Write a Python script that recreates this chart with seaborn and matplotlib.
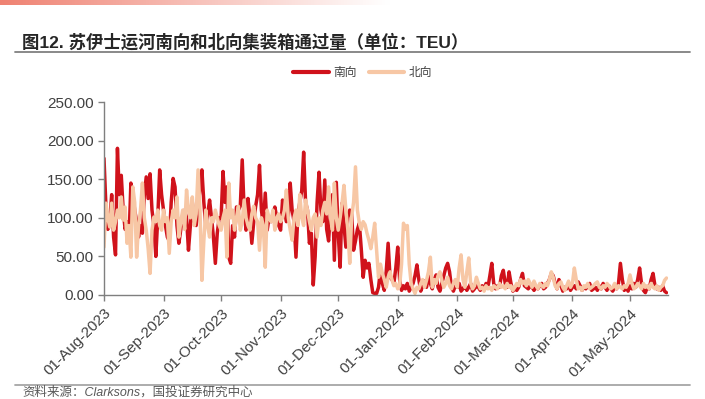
import numpy as np
import pandas as pd
import seaborn as sns
import matplotlib.pyplot as plt
import matplotlib.dates as mdates
from matplotlib.lines import Line2D
from matplotlib.colors import LinearSegmentedColormap

# daily TEU (Aug-2023 .. 20-May-2024)
south_aug = [177, 115, 85, 95, 130, 75, 52, 190, 130, 155, 110, 85, 95, 70, 145, 130, 110, 95, 75, 90,
             80, 130, 153, 125, 157, 110, 90, 50, 100, 162, 130]
south_sep = [110, 90, 75, 70, 120, 151, 140, 90, 67, 85, 100, 110, 100, 58, 90, 120, 95, 90, 110, 140,
             162, 120, 90, 105, 123, 100, 75, 41, 80, 100]
south_oct = [100, 160, 120, 140, 49, 41, 90, 75, 114, 110, 115, 175, 110, 84, 125, 100, 67, 95, 115, 130,
             168, 110, 90, 132, 84, 100, 95, 105, 114, 100, 90]
south_nov = [84, 123, 110, 95, 100, 145, 110, 95, 49, 105, 120, 135, 185, 120, 110, 67, 80, 13, 50, 120,
             159, 110, 95, 149, 85, 70, 110, 130, 45, 146]
south_dec = [80, 36, 119, 90, 62, 100, 110, 105, 58, 70, 85, 93, 60, 23, 45, 35, 41, 20, 3, 2,
             2, 10, 32, 15, 6, 30, 67, 23, 20, 15, 35]
south_jan = [62, 20, 6, 12, 8, 15, 5, 10, 15, 25, 39, 20, 5, 12, 18, 10, 25, 15, 8, 20,
             26, 10, 5, 15, 25, 35, 41, 30, 10, 5, 12]
south_feb = [10, 15, 5, 8, 12, 6, 10, 15, 5, 8, 12, 10, 6, 12, 8, 15, 10, 25, 41, 15,
             8, 12, 10, 25, 32, 15, 10, 30, 15]
south_mar = [5, 8, 6, 10, 20, 28, 12, 10, 8, 12, 10, 6, 10, 8, 12, 15, 8, 10, 15, 20,
             28, 25, 15, 8, 20, 12, 5, 10, 8, 15, 6]
south_apr = [10, 12, 8, 17, 12, 6, 10, 8, 12, 15, 6, 8, 10, 6, 12, 8, 15, 10, 6, 12,
             8, 5, 10, 8, 15, 41, 20, 6, 10, 5]
south_may = [12, 8, 15, 10, 20, 35, 15, 6, 3, 10, 8, 20, 28, 12, 8, 10, 6, 12, 5, 3]

north_aug = [62, 119, 100, 88, 119, 84, 95, 110, 100, 127, 97, 114, 67, 90, 49, 140, 120, 49, 90, 110,
             145, 100, 84, 60, 28, 84, 101, 95, 110, 90, 84]
north_sep = [110, 95, 100, 54, 95, 110, 100, 127, 75, 95, 110, 85, 136, 110, 100, 127, 90, 105, 162, 110,
             19, 70, 110, 90, 75, 100, 95, 110, 100, 90]
north_oct = [84, 100, 110, 49, 145, 100, 110, 84, 100, 115, 84, 95, 123, 100, 90, 84, 105, 115, 100, 95,
             58, 100, 90, 36, 110, 100, 95, 110, 84, 100, 105]
north_nov = [95, 100, 110, 136, 100, 84, 71, 100, 110, 90, 130, 100, 90, 123, 110, 95, 84, 100, 105, 75,
             100, 90, 110, 120, 105, 140, 100, 84, 145, 100]
north_dec = [84, 100, 119, 142, 110, 85, 41, 101, 120, 166, 110, 93, 85, 95, 91, 80, 71, 60, 75, 93,
             58, 23, 40, 28, 20, 10, 23, 30, 20, 12, 15]
north_jan = [8, 12, 40, 93, 85, 90, 40, 15, 8, 2, 10, 8, 15, 20, 10, 19, 30, 49, 10, 20,
             15, 25, 30, 19, 10, 15, 23, 12, 8, 15, 20]
north_feb = [10, 35, 52, 20, 10, 30, 48, 15, 8, 12, 23, 15, 8, 10, 5, 12, 8, 10, 6, 12,
             10, 8, 15, 10, 12, 8, 15, 10, 12]
north_mar = [6, 10, 15, 12, 20, 15, 18, 12, 20, 15, 10, 18, 12, 8, 15, 12, 10, 15, 12, 20,
             30, 23, 12, 8, 15, 17, 10, 6, 12, 18, 10]
north_apr = [15, 35, 20, 8, 10, 6, 12, 10, 15, 8, 10, 12, 15, 17, 10, 8, 12, 10, 15, 12,
             8, 10, 15, 8, 12, 10, 8, 12, 10, 15]
north_may = [26, 15, 8, 10, 15, 12, 8, 15, 10, 12, 8, 15, 10, 8, 12, 6, 10, 12, 19, 22]

south = (south_aug + south_sep + south_oct + south_nov + south_dec + south_jan
         + south_feb + south_mar + south_apr + south_may)
north = (north_aug + north_sep + north_oct + north_nov + north_dec + north_jan
         + north_feb + north_mar + north_apr + north_may)
dates = pd.date_range('2023-08-01', periods=len(south), freq='D')

df = pd.DataFrame({'date': dates, '南向': south, '北向': north})
long_df = df.melt(id_vars='date', var_name='方向', value_name='TEU')

RED = '#D0121B'
PEACH = '#F7C7A5'

sns.set_theme(style='white')
plt.rcParams['font.family'] = ['Liberation Sans', 'Noto Sans CJK SC', 'DejaVu Sans']
plt.rcParams['axes.unicode_minus'] = False

W, H = 705, 399
fig = plt.figure(figsize=(W / 100, H / 100), dpi=100)

# top gradient strip
bar = fig.add_axes([0, 1 - 5 / H, 1, 5 / H])
cmap = LinearSegmentedColormap.from_list('g', [(0, '#EF8272'), (0.55, '#FFFFFF'), (1, '#FFFFFF')])
bar.imshow(np.linspace(0, 1, 256)[None, :], aspect='auto', cmap=cmap)
bar.axis('off')

ax = fig.add_axes([104 / W, 1 - 295 / H, 564.4 / W, 193 / H])
sns.lineplot(data=long_df, x='date', y='TEU', hue='方向',
             palette={'南向': RED, '北向': PEACH}, linewidth=2.5, ax=ax, legend=False)

ax.set_xlim(dates[0], dates[0] + pd.Timedelta(days=294))
ax.set_ylim(0, 250)
ax.set_yticks(np.arange(0, 251, 50))
ax.yaxis.set_major_formatter(plt.FuncFormatter(lambda v, p: f'{v:.2f}'))
ax.xaxis.set_major_locator(mdates.MonthLocator(bymonthday=1))
ax.xaxis.set_major_formatter(mdates.DateFormatter('%d-%b-%Y'))
for lab in ax.get_xticklabels():
    lab.set_rotation(45)
    lab.set_ha('right')
    lab.set_rotation_mode('anchor')
ax.set_xlabel('')
ax.set_ylabel('')
for s in ['top', 'right']:
    ax.spines[s].set_visible(False)
for s in ['left', 'bottom']:
    ax.spines[s].set_color('#7F7F7F')
    ax.spines[s].set_linewidth(1.0)
ax.tick_params(axis='both', direction='out', length=4, width=1, color='#7F7F7F',
               labelcolor='#404040', labelsize=11, left=True, bottom=True)
ax.tick_params(axis='x', pad=4)
ax.patch.set_alpha(0)

handles = [Line2D([], [], color=RED, lw=3), Line2D([], [], color=PEACH, lw=3)]
fig.legend(handles, ['南向', '北向'], loc='center', bbox_to_anchor=(363 / W, 1 - 73 / H),
           ncol=2, frameon=False, fontsize=8.5, handlelength=3.0, handletextpad=0.4,
           columnspacing=1.0, labelcolor='#404040')

fig.text(22 / W, 1 - 42 / H, '图12. 苏伊士运河南向和北向集装箱通过量（单位：TEU）',
         fontsize=12.5, weight='bold', va='center', color='#262626')
fig.add_artist(Line2D([15 / W, 690 / W], [1 - 52 / H] * 2, color='#808080', lw=1.3))
fig.add_artist(Line2D([15 / W, 690 / W], [1 - 385 / H] * 2, color='#A6A6A6', lw=1.3))
fig.text(22 / W, 1 - 392 / H, '资料来源：Clarksons，国投证券研究中心',
         fontsize=9, style='italic', va='center', color='#595959')

fig.savefig('out.png', dpi=100)
